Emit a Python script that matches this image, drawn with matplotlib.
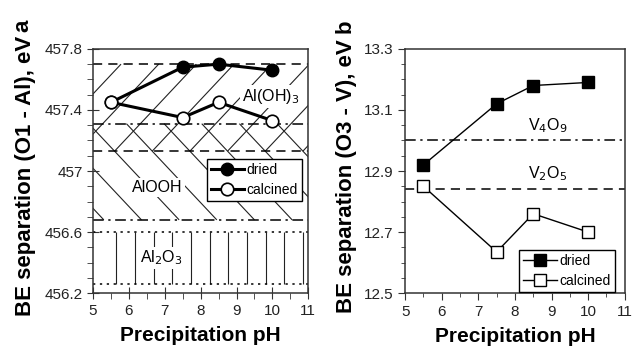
import numpy as np
import matplotlib
matplotlib.use('Agg')
import matplotlib.pyplot as plt
from matplotlib.patches import Rectangle
from matplotlib.collections import LineCollection
from matplotlib.ticker import MultipleLocator

plt.rcParams['font.family'] = ['Liberation Sans', 'DejaVu Sans']

ph = [5.5, 7.5, 8.5, 10]

# panel a: O1 - Al separation
al_dried = [457.45, 457.68, 457.70, 457.66]
al_calcined = [457.45, 457.35, 457.45, 457.33]

# panel b: O3 - V separation
v_dried = [12.92, 13.12, 13.18, 13.19]
v_calcined = [12.85, 12.635, 12.76, 12.70]

# reference phase boundaries
al_levels = [457.70, 457.31, 457.13, 456.68, 456.60, 456.26]
al_styles = [(0, (6, 4)), (0, (7, 3, 1.5, 3)), (0, (6, 4)), (0, (7, 3, 1.5, 3)), (0, (1.5, 3)), (0, (1.5, 3))]
v_levels = [13.00, 12.84]
v_styles = [(0, (7, 3, 1.5, 3)), (0, (6, 4))]


def hatch(ax, x0, x1, y0, y1, kind, step, slope=0.25):
    """sparse hatch lines clipped to a rectangle"""
    rect = Rectangle((x0, y0), x1 - x0, y1 - y0, fill=False, lw=0)
    ax.add_patch(rect)
    segs = []
    if kind == '|':
        for c in np.arange(x0, x1, step):
            segs.append([(c, y0), (c, y1)])
    else:
        s = slope if kind == '/' else -slope
        for c in np.arange(x0 - 6, x1 + 6, step):
            segs.append([(c, y0), (c + (y1 - y0) / s, y1)])
    lc = LineCollection(segs, colors='#222222', linewidths=0.8, zorder=1)
    lc.set_clip_path(rect)
    ax.add_collection(lc)


fig = plt.figure(figsize=(6.33, 3.49), dpi=100)
ax1 = fig.add_axes([0.147, 0.16, 0.34, 0.70])
ax2 = fig.add_axes([0.640, 0.16, 0.347, 0.70])

# ---- panel a
hatch(ax1, 5.3, 11, 457.13, 457.70, '/', 1.05)
hatch(ax1, 5.0, 11, 456.68, 457.31, '\\', 1.05)
hatch(ax1, 5.65, 11, 456.26, 456.60, '|', 0.52)
for lev, ls in zip(al_levels, al_styles):
    ax1.axhline(lev, color='k', lw=1.1, ls=ls, zorder=2)

ax1.plot(ph, al_dried, 'k-o', lw=2.2, ms=9, mfc='k', mec='k', label='dried', zorder=4)
ax1.plot(ph, al_calcined, 'k-o', lw=2.2, ms=9, mfc='white', mec='k', mew=1.2,
         label='calcined', zorder=5)

box = dict(facecolor='white', edgecolor='none', pad=1.5)
ax1.text(9.95, 457.49, 'Al(OH)$_3$', fontsize=11.5, ha='center', va='center', bbox=box, zorder=3)
ax1.text(6.8, 456.89, 'AlOOH', fontsize=11.5, ha='center', va='center', bbox=box, zorder=3)
ax1.text(6.9, 456.43, 'Al$_2$O$_3$', fontsize=11.5, ha='center', va='center', bbox=box, zorder=3)

ax1.set_xlim(5, 11)
ax1.set_ylim(456.2, 457.8)
ax1.yaxis.set_minor_locator(MultipleLocator(0.1))
ax1.set_yticks([456.2, 456.6, 457.0, 457.4, 457.8])
ax1.set_yticklabels(['456.2', '456.6', '457', '457.4', '457.8'])
ax1.set_ylabel('BE separation (O1 - Al), eV', fontsize=16, fontweight='bold')
ax1.yaxis.set_label_coords(-0.265, 0.48)
leg1 = ax1.legend(loc='upper right', bbox_to_anchor=(0.972, 0.551), borderaxespad=0,
                  fancybox=False, edgecolor='k', framealpha=1, fontsize=10,
                  handlelength=2.4, handletextpad=0.2, borderpad=0.3, labelspacing=0.45)
leg1.get_frame().set_linewidth(1.0)
ax1.tick_params(axis='both', which='major', direction='inout', length=8)
ax1.tick_params(axis='both', which='minor', direction='out', length=4)
fig.text(23 / 633, 1 - 26 / 349, 'a', fontsize=16, fontweight='bold', rotation=90,
         va='center', ha='center')

# ---- panel b
for lev, ls in zip(v_levels, v_styles):
    ax2.axhline(lev, color='k', lw=1.1, ls=ls, zorder=2)
ax2.plot(ph, v_dried, 'k-s', lw=1.0, ms=8, mfc='k', mec='k', label='dried', zorder=4)
ax2.plot(ph, v_calcined, 'k-s', lw=1.0, ms=8, mfc='white', mec='k', mew=1.0,
         label='calcined', zorder=5)
ax2.text(8.9, 13.05, 'V$_4$O$_9$', fontsize=11.5, ha='center', va='center')
ax2.text(8.9, 12.89, 'V$_2$O$_5$', fontsize=11.5, ha='center', va='center')

ax2.set_xlim(5, 11)
ax2.set_ylim(12.5, 13.3)
ax2.set_yticks([12.5, 12.7, 12.9, 13.1, 13.3])
ax2.yaxis.set_minor_locator(MultipleLocator(0.05))
ax2.set_ylabel('BE separation (O3 - V), eV', fontsize=16, fontweight='bold')
ax2.yaxis.set_label_coords(-0.218, 0.48)
leg2 = ax2.legend(loc='lower right', bbox_to_anchor=(0.955, 0.004), borderaxespad=0,
                  fancybox=False, edgecolor='k', framealpha=1, fontsize=10,
                  handlelength=2.4, handletextpad=0.2, borderpad=0.3, labelspacing=0.45)
leg2.get_frame().set_linewidth(1.0)
ax2.tick_params(axis='both', which='major', direction='out', length=5)
ax2.tick_params(axis='both', which='minor', direction='out', length=3)
fig.text(345 / 633, 1 - 26 / 349, 'b', fontsize=16, fontweight='bold', rotation=90,
         va='center', ha='center')

for ax in (ax1, ax2):
    ax.set_xticks(range(5, 12))
    ax.xaxis.set_minor_locator(MultipleLocator(0.5))
    ax.set_xlabel('Precipitation pH', fontsize=15, fontweight='bold', labelpad=6)
    ax.tick_params(which='both', top=False, right=False, labelsize=11,
                   color='#333333', labelcolor='#222222')
    for sp in ax.spines.values():
        sp.set_linewidth(1.1)
        sp.set_color('#333333')

fig.savefig('out.png', dpi=100)
